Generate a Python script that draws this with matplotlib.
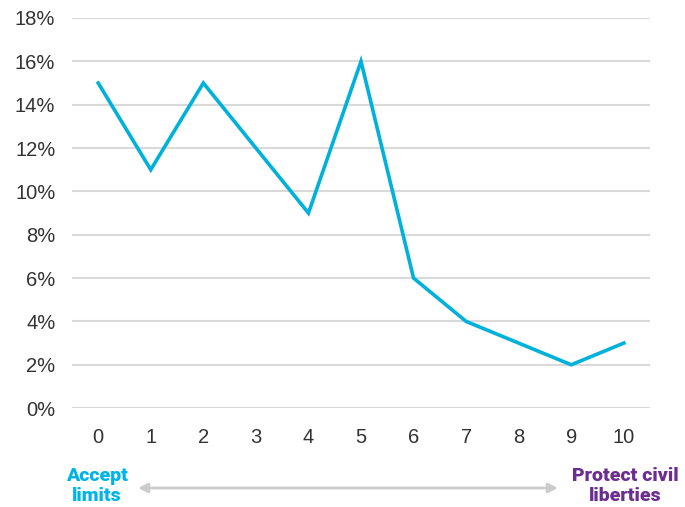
import matplotlib.pyplot as plt

# --- dados ---
scale = [0, 1, 2, 3, 4, 5, 6, 7, 8, 9, 10]
share = [15, 11, 15, 12, 9, 16, 6, 4, 3, 2, 3]
y_ticks = [0, 2, 4, 6, 8, 10, 12, 14, 16, 18]
left_label = "Accept\nlimits"
right_label = "Protect civil\nliberties"

plt.rcParams['font.family'] = ['Liberation Sans', 'DejaVu Sans']

fig = plt.figure(figsize=(6.85, 5.07), dpi=100)
ax = fig.add_axes([0.105, 0.195, 0.844, 0.7695])

ax.plot(scale, share, color='#00b1dc', linewidth=2.6, solid_joinstyle='miter', zorder=3)

ax.set_xlim(-0.5, 10.5)
ax.set_ylim(0, 18)
ax.set_xticks(scale)
ax.set_yticks(y_ticks)
ax.set_yticklabels([f"{v}%" for v in y_ticks])
ax.grid(axis='y', color='#d9d9d9', linewidth=1.5)
ax.set_axisbelow(True)
for s in ax.spines.values():
    s.set_visible(False)
ax.tick_params(length=0, labelsize=14.5, labelcolor='#333333')
ax.tick_params(axis='x', pad=14)
ax.tick_params(axis='y', pad=12)

# --- rótulos da escala e seta ---
lab = dict(fontsize=14, fontweight='heavy', family=['Roboto', 'DejaVu Sans'],
           va='center', linespacing=1.2)
fig.text(97 / 685, 1 - 486 / 507, left_label, color='#00b4e6', ha='center', **lab)
fig.text(625 / 685, 1 - 486 / 507, right_label, color='#6b2d90', ha='center', **lab)
ax.annotate('', xy=(558 / 685, 1 - 488 / 507), xytext=(138 / 685, 1 - 488 / 507),
            xycoords='figure fraction', textcoords='figure fraction',
            arrowprops=dict(arrowstyle='<|-|>', color='#cccccc', lw=2,
                            mutation_scale=14, shrinkA=0, shrinkB=0))

fig.savefig('out.png', dpi=100)
